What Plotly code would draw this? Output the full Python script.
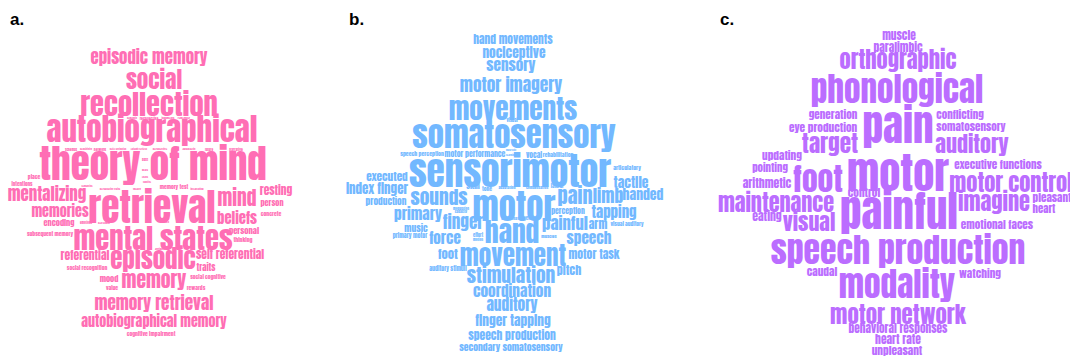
import plotly.graph_objects as go

# ---------------- data: words of each cloud ----------------
a_words = ["episodic memory", "social", "recollection", "autobiographical", "theory of mind",
           "place", "intentions", "mentalizing", "retrieval", "mind", "resting", "memories",
           "person", "beliefs", "concrete", "encoding", "subsequent memory", "mental states",
           "personal", "thinking", "referential", "episodic", "self referential",
           "social recognition", "traits", "mood", "memory", "social cognitive", "value",
           "rewards", "memory retrieval", "autobiographical memory", "cognitive impairment",
           "memory test",
           "semantic", "recollective", "judgments", "remember", "schemas", "sensitivity",
           "network", "belief attribution", "episodic retrieval", "perspective", "autonoetic",
           "future", "narrative", "past", "goals", "events", "semantics", "personality traits",
           "theory", "cognitive", "integrating", "emotions", "self other", "imagined",
           "attribution"]
b_words = ["hand movements", "nociceptive", "sensory", "motor imagery", "movements",
           "somatosensory", "speech perception", "motor performance", "vocal", "rehabilitation",
           "sensorimotor", "articulatory", "executed", "tactile", "index finger", "sounds",
           "motor", "pain", "limb", "handed", "production", "primary", "perception", "tapping",
           "finger", "hand", "painful", "arm", "visual auditory", "music", "primary motor",
           "force", "speech", "foot", "movement", "motor task", "auditory stimuli",
           "stimulation", "pitch", "coordination", "auditory", "finger tapping",
           "speech production", "secondary somatosensory",
           "visual", "motor skill", "learning", "skill", "tone", "adaptation", "compensation",
           "lateral", "modulation", "capacity", "discriminative", "era", "effort", "motion",
           "muscles"]
c_words = ["muscle", "paralimbic", "orthographic", "phonological", "generation", "conflicting",
           "pain", "eye production", "somatosensory", "target", "auditory", "updating", "motor",
           "executive functions", "pointing", "foot", "arithmetic", "motor control", "control",
           "maintenance", "painful", "imagine", "pleasant", "heart", "eating", "visual",
           "emotional faces", "speech production", "caudal", "watching", "modality",
           "motor network", "behavioral responses", "heart rate", "unpleasant"]

# ---------------- layout of the clouds (pixel space of the 1070x358 page) ----------------
a_x = [149, 154, 149, 152, 153, 34, 22, 47, 152, 237, 276, 60, 272, 237, 271, 59, 50, 153,
       244, 243, 85, 153, 230, 87, 206, 109, 154, 208, 112, 196, 154, 154, 151, 174,
       132, 149, 168, 184, 71, 86, 100, 118, 139, 160, 189, 209, 236, 145, 145, 145,
       87, 110, 137, 147, 197, 86, 104, 165, 161]
a_y = [58, 78, 102, 131, 166, 177, 184, 195, 205, 197, 191, 210, 204, 217, 213, 223, 234, 236,
       231, 240, 254, 260, 254, 268, 267, 278, 283, 277, 287, 287, 304, 322, 334, 187,
       118, 118, 118, 118, 149, 149, 149, 149, 149, 149, 149, 149, 149, 160, 170, 177,
       186, 189, 189, 182, 189, 222, 222, 222, 249]
a_w = [116, 55, 134, 209, 227, 12, 21, 78, 122, 39, 32, 56, 23, 39, 20, 31, 46, 154,
       30, 19, 47, 85, 66, 40, 18, 19, 64, 35, 12, 18, 116, 144, 48, 28,
       10, 18, 13, 12, 12, 12, 12, 16, 16, 14, 13, 8, 13, 6, 6, 6,
       11, 20, 8, 8, 13, 12, 12, 8, 12]

b_x = [513, 514, 511, 511, 513, 514, 422, 475, 534, 558, 510, 627, 387, 631, 377, 439, 514,
       575, 608, 643, 386, 418, 568, 614, 463, 512, 565, 598, 627, 416, 410, 445, 589, 448,
       513, 594, 448, 511, 569, 512, 512, 513, 512, 511,
       512, 511, 511, 473, 487, 507, 537, 557, 461, 461, 512, 529, 478, 478, 549]
b_y = [39, 53, 67, 86, 107, 136, 154, 154, 154, 154, 169, 168, 176, 181, 189, 196, 204,
       197, 195, 193, 202, 214, 211, 213, 223, 230, 224, 224, 224, 227, 236, 237, 238, 253,
       254, 253, 269, 274, 271, 290, 305, 321, 336, 347,
       120, 150, 155, 185, 188, 188, 188, 186, 208, 212, 218, 218, 235, 239, 236]
b_w = [79, 62, 49, 101, 127, 202, 43, 60, 16, 30, 200, 27, 41, 33, 62, 58, 82, 35, 30, 41,
       41, 47, 33, 45, 40, 55, 46, 18, 33, 23, 34, 31, 44, 20, 105, 50, 37, 87, 24, 78, 51,
       75, 87, 103,
       11, 10, 10, 13, 10, 17, 22, 12, 16, 12, 21, 6, 10, 10, 15]

c_x = [899, 898, 898, 897, 833, 960, 898, 823, 971, 830, 972, 782, 898, 998, 770, 818, 767,
       1011, 864, 776, 899, 994, 1052, 1044, 767, 809, 997, 898, 822, 980, 897, 898, 898,
       898, 897]
c_y = [35, 48, 61, 91, 115, 115, 128, 128, 127, 144, 145, 156, 171, 164, 168, 177, 182,
       181, 192, 201, 213, 203, 198, 208, 217, 221, 224, 252, 271, 274, 286, 313, 329,
       339, 351]
c_w = [33, 48, 116, 173, 48, 47, 71, 68, 69, 54, 73, 40, 101, 87, 36, 50, 47, 122, 32,
       114, 118, 71, 38, 22, 29, 52, 71, 253, 30, 41, 115, 133, 98, 44, 50]

panel_labels = ["a.", "b.", "c."]
label_x = [8, 347, 718]
colors = ["#FF6EB4", "#72B8FF", "#BB6DFF"]

FONT = "Anton, Oswald, sans-serif"

# approximate advance widths (Arial-bold-like, 1/1000 em), scaled to Anton
ADV = dict(a=556, b=611, c=556, d=611, e=556, f=333, g=611, h=611, i=278, j=278, k=556,
           l=278, m=889, n=611, o=611, p=611, q=611, r=389, s=556, t=333, u=611, v=556,
           w=778, x=556, y=556, z=500)
ADV[" "] = 278
ANTON = 0.84


def em_width(word):
    return sum(ADV.get(ch, 556) for ch in word) / 1000.0 * ANTON


def place(words, ys, ws):
    sizes, yy = [], []
    for wd, y, w in zip(words, ys, ws):
        s = w / em_width(wd)
        top = 0.78 if any(ch in "bdfhijklt" for ch in wd) else 0.60
        desc = 0.22 if any(ch in "gjpqy" for ch in wd) else 0.0
        yy.append(y - 0.35 * s - (desc - top) / 2 * s + 0.19 * s)
        sizes.append(s)
    return sizes, yy


fig = go.Figure()
for words, xs, ys, ws, col in [(a_words, a_x, a_y, a_w, colors[0]),
                                (b_words, b_x, b_y, b_w, colors[1]),
                                (c_words, c_x, c_y, c_w, colors[2])]:
    sizes, yy = place(words, ys, ws)
    fig.add_trace(go.Scatter(
        x=xs, y=yy, text=words, mode="text", textposition="middle center",
        textfont=dict(family=FONT, size=sizes, color=col),
        hoverinfo="text", showlegend=False, cliponaxis=False))

for lab, lx in zip(panel_labels, label_x):
    fig.add_annotation(x=lx, y=19, text=lab, showarrow=False, xanchor="left", yanchor="middle",
                       font=dict(family="Liberation Sans, Arial, sans-serif", size=17,
                                 color="black", weight="bold"))

fig.update_layout(
    width=1070, height=358, margin=dict(l=0, r=0, t=0, b=0),
    paper_bgcolor="white", plot_bgcolor="white",
    xaxis=dict(range=[0, 1070], visible=False, fixedrange=True),
    yaxis=dict(range=[358, 0], visible=False, fixedrange=True),
)
fig.write_html("out.html")
